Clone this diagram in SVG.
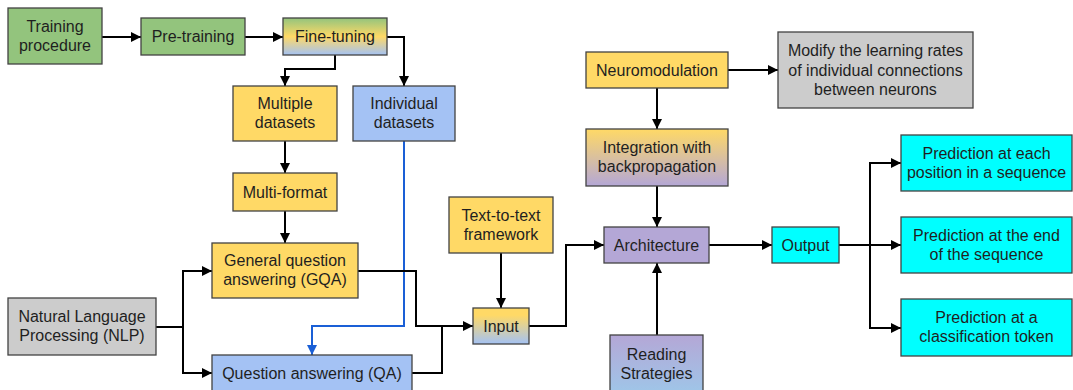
<svg xmlns="http://www.w3.org/2000/svg" width="1073" height="390" viewBox="0 0 1073 390">
<style>
.n{stroke:#434343;stroke-width:1.3}
.t{font-family:"Liberation Sans",Arial,sans-serif;font-size:16px;fill:#1f1f1f;text-anchor:middle}
.c{fill:none;stroke:#000;stroke-width:2;marker-end:url(#ah)}
.cn{fill:none;stroke:#000;stroke-width:2}
.cb{fill:none;stroke:#1a5fd6;stroke-width:2;marker-end:url(#ahb)}
.green{fill:#93c47d}.yellow{fill:#ffd966}.blue{fill:#a4c2f4}.gray{fill:#cccccc}.purple{fill:#b4a7d6}.cyan{fill:#00ffff}
</style>
<defs>
<marker id="ah" viewBox="0 0 10 10" refX="10" refY="5" markerWidth="5.5" markerHeight="5" markerUnits="strokeWidth" orient="auto"><path d="M0,0L10,5L0,10z" fill="#000"/></marker>
<marker id="ahb" viewBox="0 0 10 10" refX="10" refY="5" markerWidth="5.5" markerHeight="5" markerUnits="strokeWidth" orient="auto"><path d="M0,0L10,5L0,10z" fill="#1a5fd6"/></marker>
<linearGradient id="gFine" x1="0" y1="0" x2="0" y2="1"><stop offset="0" stop-color="#93c47d"/><stop offset="0.5" stop-color="#ffd966"/><stop offset="1" stop-color="#a4c2f4"/></linearGradient>
<linearGradient id="gInput" x1="0" y1="0" x2="0" y2="1"><stop offset="0.2" stop-color="#ffd966"/><stop offset="1" stop-color="#a4c2f4"/></linearGradient>
<linearGradient id="gInteg" x1="0" y1="0" x2="0" y2="1"><stop offset="0" stop-color="#ffd966"/><stop offset="1" stop-color="#b4a7d6"/></linearGradient>
<linearGradient id="gRead" x1="0" y1="0" x2="0" y2="1"><stop offset="0" stop-color="#b4a7d6"/><stop offset="1" stop-color="#9fc5e8"/></linearGradient>
</defs>
<rect width="1073" height="390" fill="#fff"/>
<g id="connectors">
<path class="c" d="M102,37H141"/>
<path class="c" d="M245,37H283"/>
<path class="c" d="M335,55V69H285V86"/>
<path class="c" d="M387,37H404V86"/>
<path class="c" d="M285,141V173"/>
<path class="c" d="M285,211V243"/>
<path class="cb" d="M404,141V326H312V355"/>
<path class="c" d="M156,327H183V271H212"/>
<path class="c" d="M183,327V373H212"/>
<path class="c" d="M358,271H416V326H473"/>
<path class="cn" d="M412,373H442V326"/>
<path class="c" d="M501,253V308"/>
<path class="c" d="M529,326H566V245H604"/>
<path class="c" d="M728,70H778"/>
<path class="c" d="M657,88V129"/>
<path class="c" d="M657,186V227"/>
<path class="c" d="M657,335V263"/>
<path class="c" d="M709,245H772"/>
<path class="c" d="M839,245H870V163H901"/>
<path class="c" d="M839,245H901"/>
<path class="c" d="M870,245V328H901"/>
</g>
<g id="training-procedure"><rect class="n green" x="8" y="8" width="94" height="56"/><text class="t" x="55" y="32">Training</text><text class="t" x="55" y="51">procedure</text></g>
<g id="pre-training"><rect class="n green" x="141" y="18" width="104" height="37"/><text class="t" x="193" y="42">Pre-training</text></g>
<g id="fine-tuning"><rect class="n" fill="url(#gFine)" x="283" y="18" width="104" height="37"/><text class="t" x="335" y="42">Fine-tuning</text></g>
<g id="multiple-datasets"><rect class="n yellow" x="233" y="86" width="104" height="55"/><text class="t" x="285" y="109">Multiple</text><text class="t" x="285" y="128">datasets</text></g>
<g id="individual-datasets"><rect class="n blue" x="353" y="86" width="102" height="55"/><text class="t" x="404" y="109">Individual</text><text class="t" x="404" y="128">datasets</text></g>
<g id="multi-format"><rect class="n yellow" x="233" y="173" width="104" height="38"/><text class="t" x="285" y="197.5">Multi-format</text></g>
<g id="gqa"><rect class="n yellow" x="212" y="243" width="146" height="55"/><text class="t" x="285" y="266">General question</text><text class="t" x="285" y="285">answering (GQA)</text></g>
<g id="nlp"><rect class="n gray" x="8" y="298" width="148" height="57"/><text class="t" x="82" y="322">Natural Language</text><text class="t" x="82" y="341">Processing (NLP)</text></g>
<g id="qa"><rect class="n blue" x="212" y="355" width="200" height="37"/><text class="t" x="312" y="378.5">Question answering (QA)</text></g>
<g id="text-to-text"><rect class="n yellow" x="449" y="197" width="104" height="56"/><text class="t" x="501" y="221">Text-to-text</text><text class="t" x="501" y="240">framework</text></g>
<g id="input"><rect class="n" fill="url(#gInput)" x="473" y="308" width="56" height="36"/><text class="t" x="501" y="331.5">Input</text></g>
<g id="neuromodulation"><rect class="n yellow" x="586" y="52" width="142" height="36"/><text class="t" x="657" y="75.5">Neuromodulation</text></g>
<g id="modify"><rect class="n gray" x="778" y="32" width="195" height="76"/><text class="t" x="875.5" y="55.5">Modify the learning rates</text><text class="t" x="875.5" y="75.5">of individual connections</text><text class="t" x="875.5" y="95">between neurons</text></g>
<g id="integration"><rect class="n" fill="url(#gInteg)" x="586" y="129" width="142" height="57"/><text class="t" x="657" y="153">Integration with</text><text class="t" x="657" y="172">backpropagation</text></g>
<g id="architecture"><rect class="n purple" x="604" y="227" width="105" height="36"/><text class="t" x="656.5" y="250.5">Architecture</text></g>
<g id="reading-strategies"><rect class="n" fill="url(#gRead)" x="610" y="335" width="93" height="57"/><text class="t" x="656.5" y="359.5">Reading</text><text class="t" x="656.5" y="378.5">Strategies</text></g>
<g id="output"><rect class="n cyan" x="772" y="227" width="67" height="36"/><text class="t" x="805.5" y="250.5">Output</text></g>
<g id="pred-each"><rect class="n cyan" x="901" y="135" width="171" height="56"/><text class="t" x="986.5" y="159">Prediction at each</text><text class="t" x="986.5" y="178">position in a sequence</text></g>
<g id="pred-end"><rect class="n cyan" x="901" y="217" width="171" height="56"/><text class="t" x="986.5" y="241">Prediction at the end</text><text class="t" x="986.5" y="260">of the sequence</text></g>
<g id="pred-token"><rect class="n cyan" x="901" y="299" width="171" height="57"/><text class="t" x="986.5" y="323">Prediction at a</text><text class="t" x="986.5" y="342">classification token</text></g>
</svg>
